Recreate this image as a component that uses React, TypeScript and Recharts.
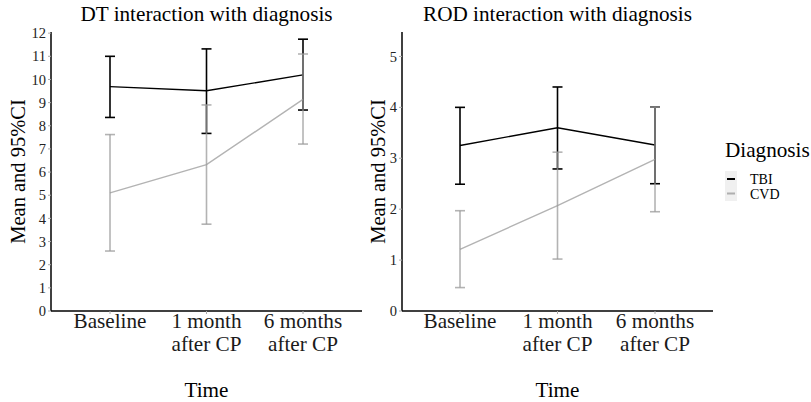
import React from 'react';
import { LineChart, Line, XAxis, YAxis, ErrorBar } from 'recharts';

const SERIF = '"Liberation Serif", "Times New Roman", serif';

const timePoints = ['Baseline', '1 month\nafter CP', '6 months\nafter CP'];

const dtTbiMean = [9.69, 9.51, 10.2];
const dtTbiLower = [8.36, 7.67, 8.68];
const dtTbiUpper = [11.0, 11.32, 11.74];
const dtCvdMean = [5.1, 6.32, 9.14];
const dtCvdLower = [2.59, 3.75, 7.21];
const dtCvdUpper = [7.62, 8.9, 11.1];

const rodTbiMean = [3.25, 3.6, 3.26];
const rodTbiLower = [2.49, 2.79, 2.5];
const rodTbiUpper = [4.0, 4.4, 4.01];
const rodCvdMean = [1.21, 2.07, 2.98];
const rodCvdLower = [0.46, 1.02, 1.95];
const rodCvdUpper = [1.97, 3.12, 4.01];

const dtTicks = [0, 1, 2, 3, 4, 5, 6, 7, 8, 9, 10, 11, 12];
const rodTicks = [0, 1, 2, 3, 4, 5];

const seriesNames = ['TBI', 'CVD'];
const titles = ['DT interaction with diagnosis', 'ROD interaction with diagnosis'];

const BIG = 21.2;

function buildRows(
  tm: number[], tl: number[], tu: number[],
  cm: number[], cl: number[], cu: number[]
) {
  return timePoints.map((t, i) => ({
    time: t,
    tbi: tm[i],
    tbiErr: [tm[i] - tl[i], tu[i] - tm[i]],
    cvd: cm[i],
    cvdErr: [cm[i] - cl[i], cu[i] - cm[i]],
  }));
}

const dtRows = buildRows(dtTbiMean, dtTbiLower, dtTbiUpper, dtCvdMean, dtCvdLower, dtCvdUpper);
const rodRows = buildRows(rodTbiMean, rodTbiLower, rodTbiUpper, rodCvdMean, rodCvdLower, rodCvdUpper);

const TimeTick = (props: any) => {
  const { x, y, payload } = props;
  const lines = String(payload.value).split('\n');
  return (
    <text x={x} y={y} textAnchor="middle" fontFamily={SERIF} fontSize={BIG} fill="#1a1a1a">
      {lines.map((l, i) => (
        <tspan key={i} x={x} dy={i === 0 ? 12 : 23}>{l}</tspan>
      ))}
    </text>
  );
};

const GRAY = '#999999';
const GRAY_OP = 0.75;

function Panel(props: { rows: any[]; domain: [number, number]; ticks: number[]; width: number; yAxisWidth: number; marginRight: number; pad: number }) {
  const { rows, domain, ticks, width, yAxisWidth, marginRight, pad } = props;
  return (
    <LineChart width={width} height={402} data={rows} margin={{ top: 32, right: marginRight, bottom: 0, left: 0 }}>
      <XAxis
        dataKey="time"
        type="category"
        padding={{ left: pad, right: pad }}
        height={91}
        interval={0}
        tick={<TimeTick />}
        tickSize={3}
        axisLine={{ stroke: '#000', strokeWidth: 1.5 }}
        tickLine={{ stroke: '#aaa' }}
      />
      <YAxis
        type="number"
        domain={domain}
        ticks={ticks}
        allowDataOverflow
        width={yAxisWidth}
        tickSize={3}
        axisLine={{ stroke: '#000', strokeWidth: 1.5 }}
        tickLine={{ stroke: '#aaa' }}
        tick={{ fontFamily: SERIF, fontSize: 14.5, fill: '#222' }}
      />
      <Line dataKey="tbi" name={seriesNames[0]} stroke="#000" strokeWidth={1.4} dot={false} activeDot={false} isAnimationActive={false}>
        <ErrorBar dataKey="tbiErr" width={5} stroke="#000" strokeWidth={1.6} direction="y" isAnimationActive={false} />
      </Line>
      <Line dataKey="cvd" name={seriesNames[1]} stroke={GRAY} strokeOpacity={GRAY_OP} strokeWidth={1.4} dot={false} activeDot={false} isAnimationActive={false}>
        <ErrorBar dataKey="cvdErr" width={5} stroke={GRAY} strokeOpacity={GRAY_OP} strokeWidth={1.6} direction="y" isAnimationActive={false} />
      </Line>
    </LineChart>
  );
}

export default function App() {
  return (
    <div style={{ position: 'absolute', left: 0, top: 0, width: 811, height: 402, background: '#fff', overflow: 'hidden' }}>
      <div style={{ position: 'absolute', left: 0, top: 0 }}>
        <Panel rows={dtRows} domain={[0, 12.05]} ticks={dtTicks} width={380} yAxisWidth={51} marginRight={18} pad={59} />
      </div>
      <div style={{ position: 'absolute', left: 360, top: 0 }}>
        <Panel rows={rodRows} domain={[0, 5.48]} ticks={rodTicks} width={360} yAxisWidth={42} marginRight={7} pad={58} />
      </div>
      <svg width={811} height={402} style={{ position: 'absolute', left: 0, top: 0, pointerEvents: 'none' }}>
        <g fontFamily={SERIF} fill="#000">
          <text x={206.5} y={21} textAnchor="middle" fontSize={BIG}>{titles[0]}</text>
          <text x={557.5} y={21} textAnchor="middle" fontSize={BIG}>{titles[1]}</text>
          <text transform="translate(25,171.5) rotate(-90)" textAnchor="middle" fontSize={20.5}>Mean and 95%CI</text>
          <text transform="translate(385,171.5) rotate(-90)" textAnchor="middle" fontSize={20.5}>Mean and 95%CI</text>
          <text x={206.5} y={397} textAnchor="middle" fontSize={BIG}>Time</text>
          <text x={557.5} y={397} textAnchor="middle" fontSize={BIG}>Time</text>
          <text x={725} y={157} fontSize={BIG}>Diagnosis</text>
          <rect x={725} y={171} width={12} height={15} fill="#f0f0f0" />
          <rect x={725} y={186} width={12} height={15} fill="#f0f0f0" />
          <line x1={727} x2={735} y1={179} y2={179} stroke="#000" strokeWidth={2} />
          <line x1={727} x2={735} y1={193.5} y2={193.5} stroke={GRAY} strokeOpacity={GRAY_OP} strokeWidth={2} />
          <text x={750} y={184} fontSize={14}>{seriesNames[0]}</text>
          <text x={750} y={199} fontSize={14}>{seriesNames[1]}</text>
        </g>
      </svg>
    </div>
  );
}
